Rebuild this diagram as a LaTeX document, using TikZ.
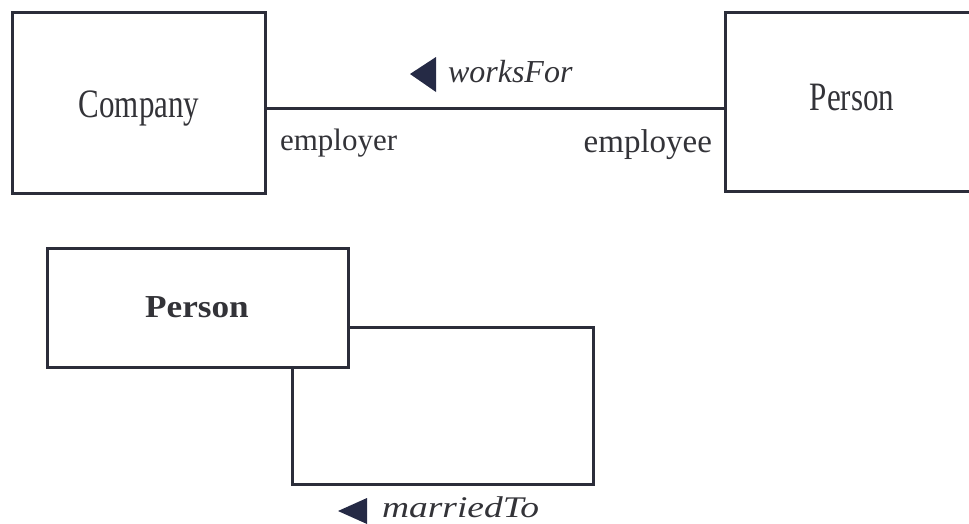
\documentclass[tikz,border=0pt]{standalone}
\usepackage{fontspec}
\setmainfont{Liberation Serif}
\definecolor{linec}{HTML}{2B2D3A}
\definecolor{textc}{HTML}{333338}
\definecolor{tric}{HTML}{252A45}
\begin{document}
\begin{tikzpicture}[x=1pt,y=-1pt,
  box/.style={draw=linec, line width=3pt, rectangle, inner sep=0pt, fill=white},
  lbl/.style={text=textc, inner sep=0pt, outer sep=0pt},
  conn/.style={draw=linec, line width=3pt},
  tri/.style={fill=tric}]
\useasboundingbox (0,0) rectangle (969,523);
\clip (0,0) rectangle (969,523);
% boxes
\node[box, minimum width=255pt, minimum height=179pt] (person1) at (852.5,101.5) {};
\node[box, minimum width=253pt, minimum height=181pt] (company) at (138.5,102.5) {};
\node[box, minimum width=301pt, minimum height=119pt] (person2) at (197.5,307.5) {};
% connectors
\coordinate (ln) at (0,108);
\draw[conn] (company.east |- ln) -- (person1.west |- ln);
\coordinate (lr) at (593,484);
\coordinate (ll) at (292,484);
\draw[conn, line join=miter] ([yshift=-19.5pt]person2.east) -- ([yshift=-19.5pt]person2.east -| lr) -- (lr) -- (ll) -- (ll |- person2.south);
% texts
\node[lbl, anchor=base, font=\fontsize{31}{36}\selectfont] (tcompany) at (139,117) {\scalebox{1}[1.3]{Company}};
\node[lbl, anchor=base, font=\fontsize{31}{36}\selectfont] (tperson1) at (852,110) {\scalebox{1}[1.3]{Person}};
\node[lbl, anchor=base, font=\fontsize{32}{36}\selectfont\bfseries] (tperson2) at (197,317) {\scalebox{1.1}[1]{Person}};
\node[lbl, anchor=base west, font=\fontsize{31}{36}\selectfont] (employer) at (280,150) {employer};
\node[lbl, anchor=base east, font=\fontsize{33}{36}\selectfont] (employee) at (712,152) {employee};
\node[lbl, anchor=base west, font=\fontsize{32}{36}\selectfont\itshape] (worksfor) at (448,82) {worksFor};
\node[lbl, anchor=base west, font=\fontsize{30}{36}\selectfont\itshape] (marriedto) at (382,517) {\scalebox{1.25}[1]{marriedTo}};
% direction triangles
\fill[tri] (410,74) -- (436,57) -- (436,92) -- cycle;
\fill[tri] (338,511) -- (367,498) -- (367,524) -- cycle;
\end{tikzpicture}
\end{document}
